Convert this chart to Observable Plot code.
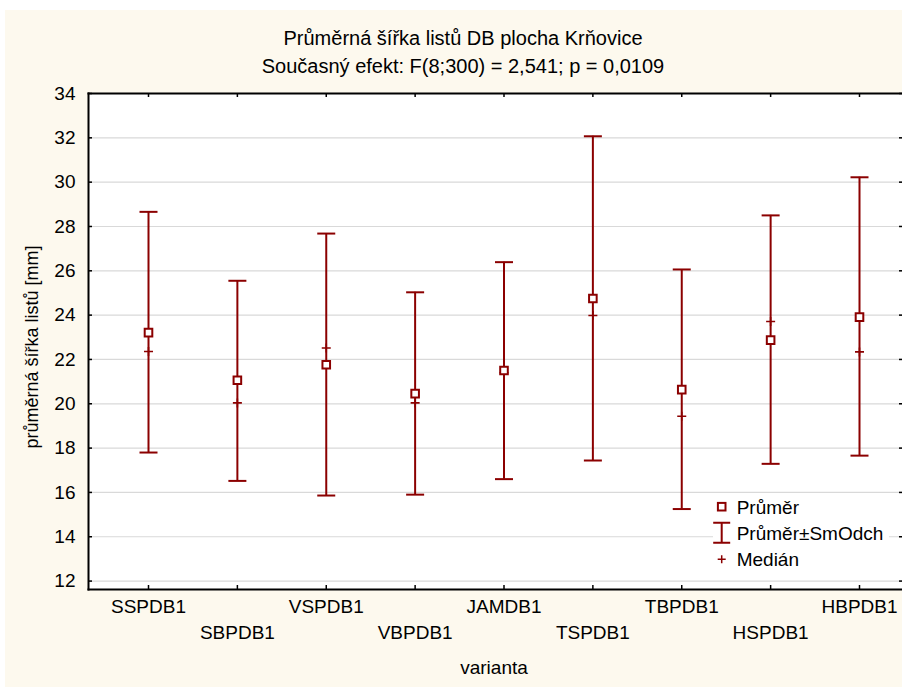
<!DOCTYPE html>
<html><head><meta charset="utf-8">
<script src="https://cdn.jsdelivr.net/npm/d3@7"></script>
<script src="https://cdn.jsdelivr.net/npm/@observablehq/plot@0.6"></script>
<style>
html,body{margin:0;padding:0;background:#fff;}
#page{position:relative;width:902px;height:687px;overflow:hidden;background:#fff;font-family:"Liberation Sans",Arial,sans-serif;color:#000;}
#bg{position:absolute;left:5px;top:10px;right:0;bottom:0;background:#fdf9ee;}
.t{position:absolute;left:0;width:926px;text-align:center;font-size:20px;line-height:28px;white-space:nowrap;}
#chart{position:absolute;left:0;top:80px;}
#ylab{position:absolute;left:32px;top:347px;transform:translate(-50%,-50%) rotate(-90deg);font-size:18px;white-space:nowrap;line-height:20px;}
#xlab{position:absolute;left:494px;top:668px;transform:translate(-50%,-50%);font-size:19px;white-space:nowrap;line-height:20px;}
#legend{position:absolute;left:713px;top:497px;}
</style></head>
<body><div id="page">
<div id="bg"></div>
<div class="t" style="top:24px">Průměrná šířka listů DB plocha Krňovice</div>
<div class="t" style="top:52px">Současný efekt: F(8;300) = 2,541; p = 0,0109</div>
<div id="chart"></div>
<div id="ylab">průměrná šířka listů [mm]</div>
<div id="xlab">varianta</div>
<svg id="legend" width="176" height="74"></svg>
</div>
<script>
const categories = ["SSPDB1","SBPDB1","VSPDB1","VBPDB1","JAMDB1","TSPDB1","TBPDB1","HSPDB1","HBPDB1"];
const means   = [23.21, 21.06, 21.76, 20.46, 21.50, 24.75, 20.64, 22.87, 23.91];
const sdLow   = [17.80, 16.52, 15.86, 15.90, 16.60, 17.44, 15.25, 17.29, 17.66];
const sdHigh  = [28.66, 25.55, 27.68, 25.03, 26.39, 32.07, 26.06, 28.50, 30.22];
const medians = [22.36, 20.04, 22.52, 20.04, 21.40, 23.98, 19.44, 23.71, 22.34];
const yTicks = [12,14,16,18,20,22,24,26,28,30,32,34];
const legendLabels = ["Průměr", "Průměr±SmOdch", "Medián"];

const RED = "#8b0000";
const data = categories.map((c,i)=>({cat:c, mean:means[i], lo:sdLow[i], hi:sdHigh[i], med:medians[i]}));

const capSym = {draw(ctx, size){const r=Math.sqrt(size/Math.PI); ctx.moveTo(-r,0); ctx.lineTo(r,0);}};
const sqSym = {draw(ctx, size){const r=Math.sqrt(size/Math.PI); ctx.moveTo(-r,-r); ctx.lineTo(r,-r); ctx.lineTo(r,r); ctx.lineTo(-r,r); ctx.closePath();}};
const plusSym = {draw(ctx, size){const r=Math.sqrt(size/Math.PI); ctx.moveTo(-r,0); ctx.lineTo(r,0); ctx.moveTo(0,-r); ctx.lineTo(0,r);}};

const W=902, H=607, mL=88, mR=0, mT=13, mB=98;
const pw = W-mL-mR, ph = H-mT-mB;
const font = "Liberation Sans, Arial, sans-serif";

const chart = Plot.plot({
  width: W, height: H, marginLeft: mL, marginRight: mR, marginTop: mT, marginBottom: mB,
  style: {background:"transparent", fontFamily: font, fontSize:"19px", color:"#000", overflow:"visible"},
  x: {type:"point", domain: categories, range:[148, 859], padding:0, round:false},
  y: {domain:[11.62, 34], range:[H-mB, mT]},
  marks: [
    Plot.frame({fill:"white", stroke:"none"}),
    Plot.gridY(yTicks, {stroke:"#d9d9d9", strokeOpacity:1, strokeWidth:1.2}),
    Plot.axisY(yTicks, {tickSize:0, tickPadding:13, label:null, fontSize:19}),
    Plot.axisX(categories.filter((_,i)=>i%2===0), {tickSize:0, tickPadding:10, label:null, fontSize:19}),
    Plot.axisX(categories.filter((_,i)=>i%2===1), {tickSize:0, tickPadding:36, label:null, fontSize:19}),
    Plot.tickY(yTicks, {y:d=>d, stroke:"#000", strokeWidth:1.5, insetRight: pw-4}),
    Plot.tickY(yTicks, {y:d=>d, stroke:"#000", strokeWidth:1.5, insetLeft: pw-3}),
    Plot.tickX(categories, {x:d=>d, stroke:"#000", strokeWidth:1.5, insetTop: ph-4}),
    Plot.tickX(categories, {x:d=>d, stroke:"#000", strokeWidth:1.5, insetBottom: ph-4}),
    Plot.ruleX(data, {x:"cat", y1:"lo", y2:"hi", stroke:RED, strokeWidth:2}),
    Plot.dot(data, {x:"cat", y:"hi", symbol:capSym, r:9, stroke:RED, strokeWidth:2, fill:"none"}),
    Plot.dot(data, {x:"cat", y:"lo", symbol:capSym, r:9, stroke:RED, strokeWidth:2, fill:"none"}),
    Plot.dot(data, {x:"cat", y:"med", symbol:plusSym, r:4.5, stroke:RED, strokeWidth:1.6, fill:"none"}),
    Plot.dot(data, {x:"cat", y:"mean", symbol:sqSym, r:3.8, stroke:RED, strokeWidth:2, fill:"white"}),
    Plot.frame({anchor:"top", stroke:"#000", strokeWidth:2}),
    Plot.frame({anchor:"left", stroke:"#000", strokeWidth:2}),
    Plot.frame({anchor:"bottom", stroke:"#000", strokeWidth:2})
  ]
});
document.getElementById("chart").appendChild(chart);

// legend
const lg = d3.select("#legend");
lg.append("rect").attr("width",176).attr("height",74).attr("fill","white");
const sx = 8.7;
lg.append("rect").attr("x",sx-3.8).attr("y",9.7-3.8).attr("width",7.6).attr("height",7.6).attr("fill","white").attr("stroke",RED).attr("stroke-width",2);
lg.append("path").attr("d",`M${sx-8.5},25.7H${sx+8.5}M${sx},25.7V45.7M${sx-8.5},45.7H${sx+8.5}`).attr("stroke",RED).attr("stroke-width",2).attr("fill","none");
lg.append("path").attr("d",`M${sx-4},62.3H${sx+4}M${sx},58.3V66.3`).attr("stroke",RED).attr("stroke-width",1.5).attr("fill","none");
const ys=[9.7,35.7,62.3];
legendLabels.forEach((t,i)=>{
  lg.append("text").attr("x",23.7).attr("y",ys[i]+6.8).attr("font-family",font).attr("font-size",19).text(t);
});
</script>
</body></html>
